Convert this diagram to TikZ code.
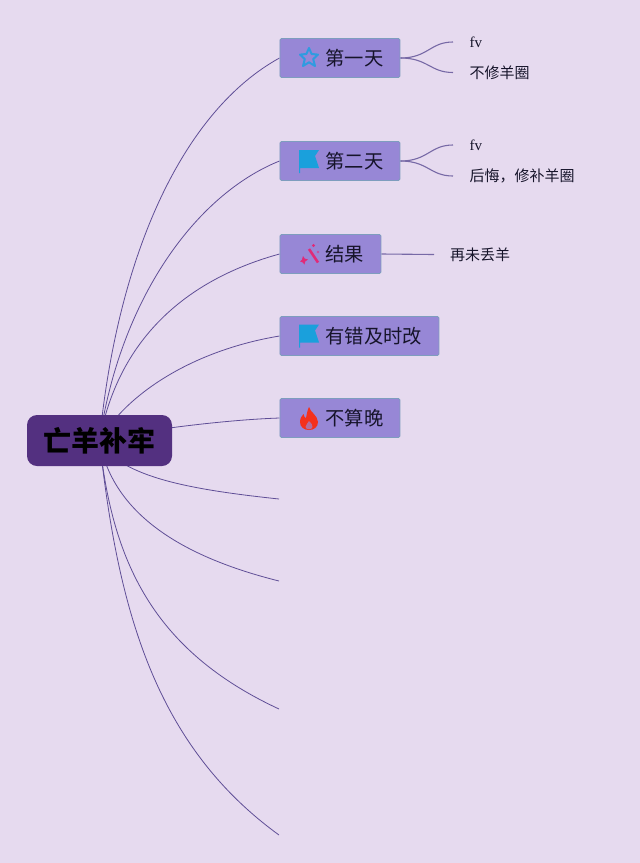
\documentclass[tikz,border=0pt]{standalone}
\usepackage{fontspec}
\setmainfont{Liberation Serif}
\newfontfamily\cjk{Noto Sans CJK SC}
\usetikzlibrary{backgrounds}
\definecolor{bgc}{HTML}{E6DAEF}
\definecolor{boxc}{HTML}{9787D6}
\definecolor{boxb}{HTML}{7E9DBE}
\definecolor{rootc}{HTML}{533080}
\definecolor{linec}{HTML}{5F4E96}
\definecolor{inkc}{HTML}{16142A}
\definecolor{flagc}{HTML}{1AA0DC}
\definecolor{starc}{HTML}{2F9BE0}
\definecolor{wandc}{HTML}{E02A78}
\definecolor{firec}{HTML}{F4301C}
\newcommand{\topiclabel}[2]{\makebox[#1][l]{\hspace{45.5pt}#2}}
\tikzset{
  x=1pt,y=-1pt,
  topicbox/.style={draw=boxb,line width=0.9pt,fill=boxc,rounded corners=1.5pt,minimum height=39pt,inner sep=0pt,anchor=west,text=inkc,font=\cjk\fontsize{19.3}{23}\selectfont},
  rootbox/.style={fill=rootc,rounded corners=10pt,minimum width=145pt,minimum height=51pt,inner sep=0pt,text=black,font=\cjk\bfseries\fontsize{28}{32}\selectfont},
  leaf/.style={anchor=west,inner xsep=16.5pt,inner ysep=0pt,text=inkc,font=\cjk\fontsize{15}{18}\selectfont},
  leaflat/.style={anchor=west,inner xsep=16.5pt,inner ysep=0pt,text=inkc,font=\fontsize{15}{18}\selectfont},
  link/.style={draw=linec,line width=0.8pt},
  sublink/.style={draw=linec!85,line width=1.1pt},
}
\begin{document}
\begin{tikzpicture}
\useasboundingbox (0,0) rectangle (640,863);
% root and topics
\node[rootbox] (root) at (99.5,440.5) {亡羊补牢};
\node[topicbox] (t1) at (279.5,58) {\topiclabel{120pt}{第一天}};
\node[topicbox] (t2) at (279.5,161) {\topiclabel{120pt}{第二天}};
\node[topicbox] (t3) at (279.5,254) {\topiclabel{101pt}{结果}};
\node[topicbox] (t4) at (279.5,336) {\topiclabel{159pt}{有错及时改}};
\node[topicbox] (t5) at (279.5,418) {\topiclabel{120pt}{不算晚}};
% free ends
\coordinate (e6) at (279,499);
\coordinate (e7) at (279,581);
\coordinate (e8) at (279,709);
\coordinate (e9) at (279,835);
% leaves
\node[leaflat] (l1a) at (453,42) {fv};
\node[leaf] (l1b) at (453,72.5) {不修羊圈};
\node[leaflat] (l2a) at (453,145) {fv};
\node[leaf] (l2b) at (453,176) {后悔，修补羊圈};
\node[leaf,inner xsep=16pt] (l3a) at (434,254.5) {再未丢羊};
% connectors behind the boxes
\begin{pgfonlayer}{background}
\fill[bgc] (0,0) rectangle (640,863);
\path[link] (root.center) .. controls (118,250) and (185,110) .. (t1.west);
\path[link] (root.center) .. controls (120,300) and (195,195) .. (t2.west);
\path[link] (root.center) .. controls (118,340) and (185,280) .. (t3.west);
\path[link] (root.center) .. controls (128,392) and (195,350) .. (t4.west);
\path[link] (root.center) .. controls (130,432) and (220,420) .. (t5.west);
\path[link] (root.center) .. controls (120,478) and (195,490) .. (e6);
\path[link] (root.center) .. controls (112,510) and (175,555) .. (e7);
\path[link] (root.center) .. controls (112,560) and (152,650) .. (e8);
\path[link] (root.center) .. controls (118,610) and (155,745) .. (e9);
\path[sublink] (t1.east) .. controls (428,58) and (430,42) .. (l1a.west);
\path[sublink] (t1.east) .. controls (428,58) and (430,72.5) .. (l1b.west);
\path[sublink] (t2.east) .. controls (428,161) and (430,145) .. (l2a.west);
\path[sublink] (t2.east) .. controls (428,161) and (430,176) .. (l2b.west);
\path[sublink] (t3.east) -- (l3a.west);
\end{pgfonlayer}
% star icon
\draw[starc,line width=2pt,line join=round] 
  (309,48) -- (311.6,54) -- (318,54.6) -- (313.2,59.1) -- (315,66) -- (309,62.3) -- (303,66) -- (304.8,59.1) -- (300,54.6) -- (306.4,54) -- cycle;
% flag icons
\fill[flagc] (299,150) -- (319,150) -- (315,156) -- (319,168) -- (300,168) -- (300,173) -- (299,173) -- cycle;
\fill[flagc] (299,324.5) -- (319,324.5) -- (315,330.5) -- (319,342.5) -- (300,342.5) -- (300,347.5) -- (299,347.5) -- cycle;
% wand icon
\draw[wandc,line width=2.6pt] (309,249) -- (318,262.5);
\fill[wandc] (303,256) -- (304.8,258.6) -- (308,259.5) -- (305.2,261.5) -- (304.5,264.5) -- (302.4,262.2) -- (300,261.5) -- (302,259.5) -- cycle;
\fill[wandc] (313.5,245.5) circle (1.6pt);
\fill[wandc!60!boxc] (318,252) circle (1.3pt);
% fire icon
\fill[firec] (309,407) .. controls (310,412) and (317.5,415) .. (318,422) .. controls (318,427) and (314,430) .. (309,430) .. controls (304,430) and (300,427) .. (300,422) .. controls (300,418) and (302,416) .. (303.5,414) .. controls (304,417) and (305,418) .. (306,418) .. controls (307,414) and (307,411) .. (309,407) -- cycle;
\fill[boxc!70!firec] (309,421) .. controls (311,423) and (313,425) .. (312.5,427) .. controls (312,430) and (306,430) .. (305.5,427) .. controls (305.5,425) and (308,423) .. (309,421) -- cycle;
\end{tikzpicture}
\end{document}
